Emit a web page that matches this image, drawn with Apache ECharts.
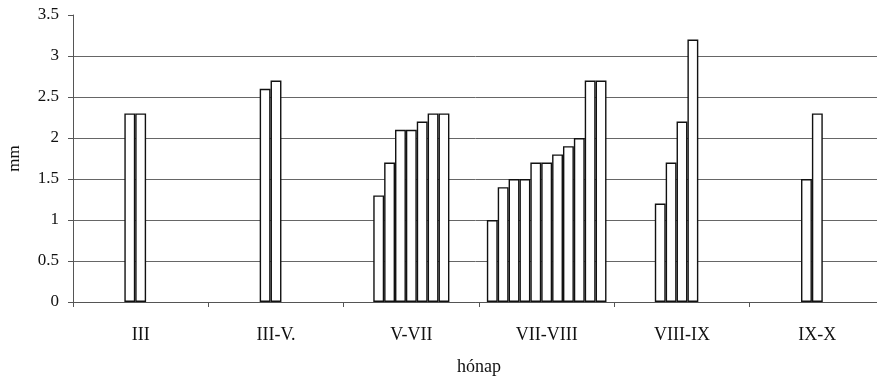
<!DOCTYPE html>
<html>
<head>
<meta charset="utf-8">
<script src="https://cdn.jsdelivr.net/npm/echarts@6/dist/echarts.min.js"></script>
<style>
  html, body { margin: 0; padding: 0; background: #fff; }
  #chart { width: 877px; height: 380px; }
</style>
</head>
<body>
<div id="chart"></div>
<script>
// Periods (months) on the x axis
const categories = ['III', 'III-V.', 'V-VII', 'VII-VIII', 'VIII-IX', 'IX-X'];

// Eleven measurement series (mm); null where a period has no value
const series1  = [null, null, null, 1.0, null, null];
const series2  = [null, null, null, 1.4, null, null];
const series3  = [null, null, 1.3, 1.5, null, null];
const series4  = [null, null, 1.7, 1.5, 1.2, null];
const series5  = [2.3, 2.6, 2.1, 1.7, 1.7, 1.5];
const series6  = [2.3, 2.7, 2.1, 1.7, 2.2, 2.3];
const series7  = [null, null, 2.2, 1.8, 3.2, null];
const series8  = [null, null, 2.3, 1.9, null, null];
const series9  = [null, null, 2.3, 2.0, null, null];
const series10 = [null, null, null, 2.7, null, null];
const series11 = [null, null, null, 2.7, null, null];

const allSeries = [series1, series2, series3, series4, series5, series6,
                   series7, series8, series9, series10, series11];

const font = 'Liberation Serif, Times New Roman, serif';

const chart = echarts.init(document.getElementById('chart'));
chart.setOption({
  animation: false,
  backgroundColor: '#fff',
  grid: {
    left: 73, top: 15, bottom: 78, right: -8,
    containLabel: false,
    outerBoundsMode: 'none'
  },
  xAxis: {
    type: 'category',
    data: categories,
    name: 'hónap',
    nameLocation: 'middle',
    nameGap: 56,
    nameTextStyle: { fontFamily: font, fontSize: 18, color: '#111' },
    axisLine: { lineStyle: { color: '#555', width: 1 } },
    axisTick: { show: true, length: 5, lineStyle: { color: '#555' } },
    axisLabel: { fontFamily: font, fontSize: 18, color: '#111', margin: 24 }
  },
  yAxis: {
    type: 'value',
    min: 0,
    max: 3.5,
    interval: 0.5,
    name: 'mm',
    nameLocation: 'middle',
    nameGap: 50,
    nameTextStyle: { fontFamily: font, fontSize: 17, color: '#111' },
    axisLine: { show: true, lineStyle: { color: '#555', width: 1 } },
    axisTick: { show: true, length: 5, lineStyle: { color: '#555' } },
    axisLabel: { fontFamily: font, fontSize: 17, color: '#111', margin: 14 },
    splitLine: { show: true, showMaxLine: false, lineStyle: { color: '#666', width: 1 } }
  },
  series: allSeries.map((vals, i) => ({
    name: 'S' + (i + 1),
    type: 'bar',
    data: vals,
    barGap: '0%',
    barCategoryGap: '11.6%',
    itemStyle: { color: '#fff', borderColor: '#111', borderWidth: 1.4 }
  }))
});
</script>
</body>
</html>
